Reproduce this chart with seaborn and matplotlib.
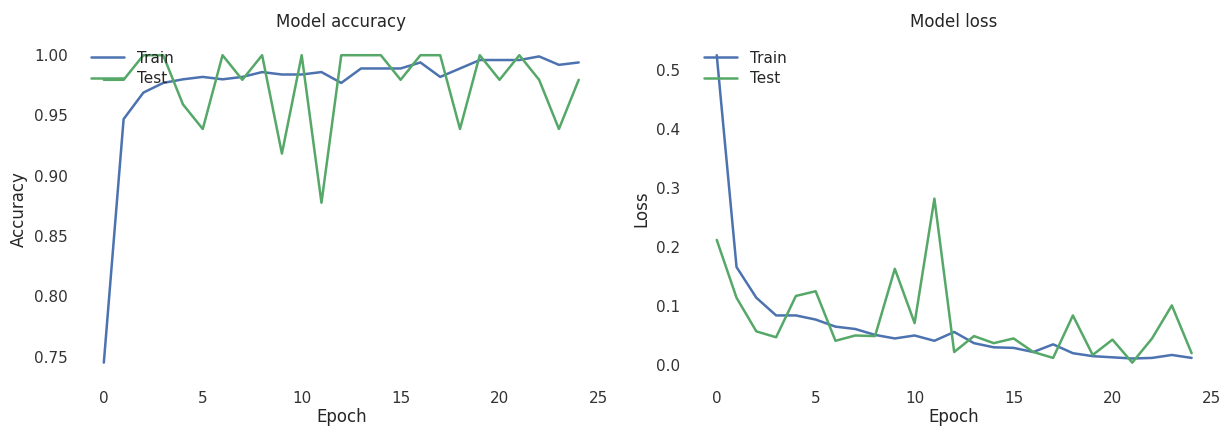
import numpy as np
import pandas as pd
import matplotlib
matplotlib.use("Agg")
import matplotlib.pyplot as plt
import seaborn as sns

# training history
epochs = list(range(25))

train_acc = [0.745, 0.947, 0.969, 0.977, 0.980, 0.982, 0.980, 0.982, 0.986, 0.984,
             0.984, 0.986, 0.977, 0.989, 0.989, 0.989, 0.994, 0.982, 0.989, 0.996,
             0.996, 0.996, 0.999, 0.992, 0.994]
test_acc = [0.9796, 0.9796, 1.0, 1.0, 0.9592, 0.9388, 1.0, 0.9796, 1.0, 0.9184,
            1.0, 0.8776, 1.0, 1.0, 1.0, 0.9796, 1.0, 1.0, 0.9388, 1.0,
            0.9796, 1.0, 0.9796, 0.9388, 0.9796]

train_loss = [0.525, 0.166, 0.114, 0.084, 0.084, 0.077, 0.065, 0.061, 0.051, 0.045,
              0.050, 0.041, 0.056, 0.037, 0.030, 0.029, 0.022, 0.035, 0.020, 0.015,
              0.013, 0.011, 0.012, 0.017, 0.012]
test_loss = [0.212, 0.114, 0.057, 0.047, 0.117, 0.125, 0.041, 0.050, 0.049, 0.163,
             0.071, 0.282, 0.022, 0.049, 0.037, 0.045, 0.022, 0.012, 0.084, 0.017,
             0.043, 0.004, 0.045, 0.101, 0.020]

sns.set_theme(style="white", context="notebook")
plt.rcParams['font.family'] = ['DejaVu Sans']

fig = plt.figure(figsize=(12.32, 4.33), dpi=100)
ax1 = fig.add_axes([0.065, 0.127, 0.424, 0.781])
ax2 = fig.add_axes([0.5625, 0.127, 0.424, 0.781])

blue, green = sns.color_palette("deep")[0], sns.color_palette("deep")[2]


def panel(ax, train, test, title, ylabel):
    sns.lineplot(x=epochs, y=train, ax=ax, color=blue, label="Train", linewidth=1.8)
    sns.lineplot(x=epochs, y=test, ax=ax, color=green, label="Test", linewidth=1.8)
    ax.set_title(title, pad=9)
    ax.set_xlabel("Epoch", labelpad=2)
    ax.set_ylabel(ylabel)
    ax.tick_params(length=0, pad=9, colors="#333333")
    ax.legend(loc="upper left", frameon=False, handlelength=2.2,
              borderaxespad=0.3, labelspacing=0.35)
    sns.despine(ax=ax, left=True, bottom=True)


panel(ax1, train_acc, test_acc, "Model accuracy", "Accuracy")
panel(ax2, train_loss, test_loss, "Model loss", "Loss")

fig.savefig("out.png", dpi=100, facecolor="white")
